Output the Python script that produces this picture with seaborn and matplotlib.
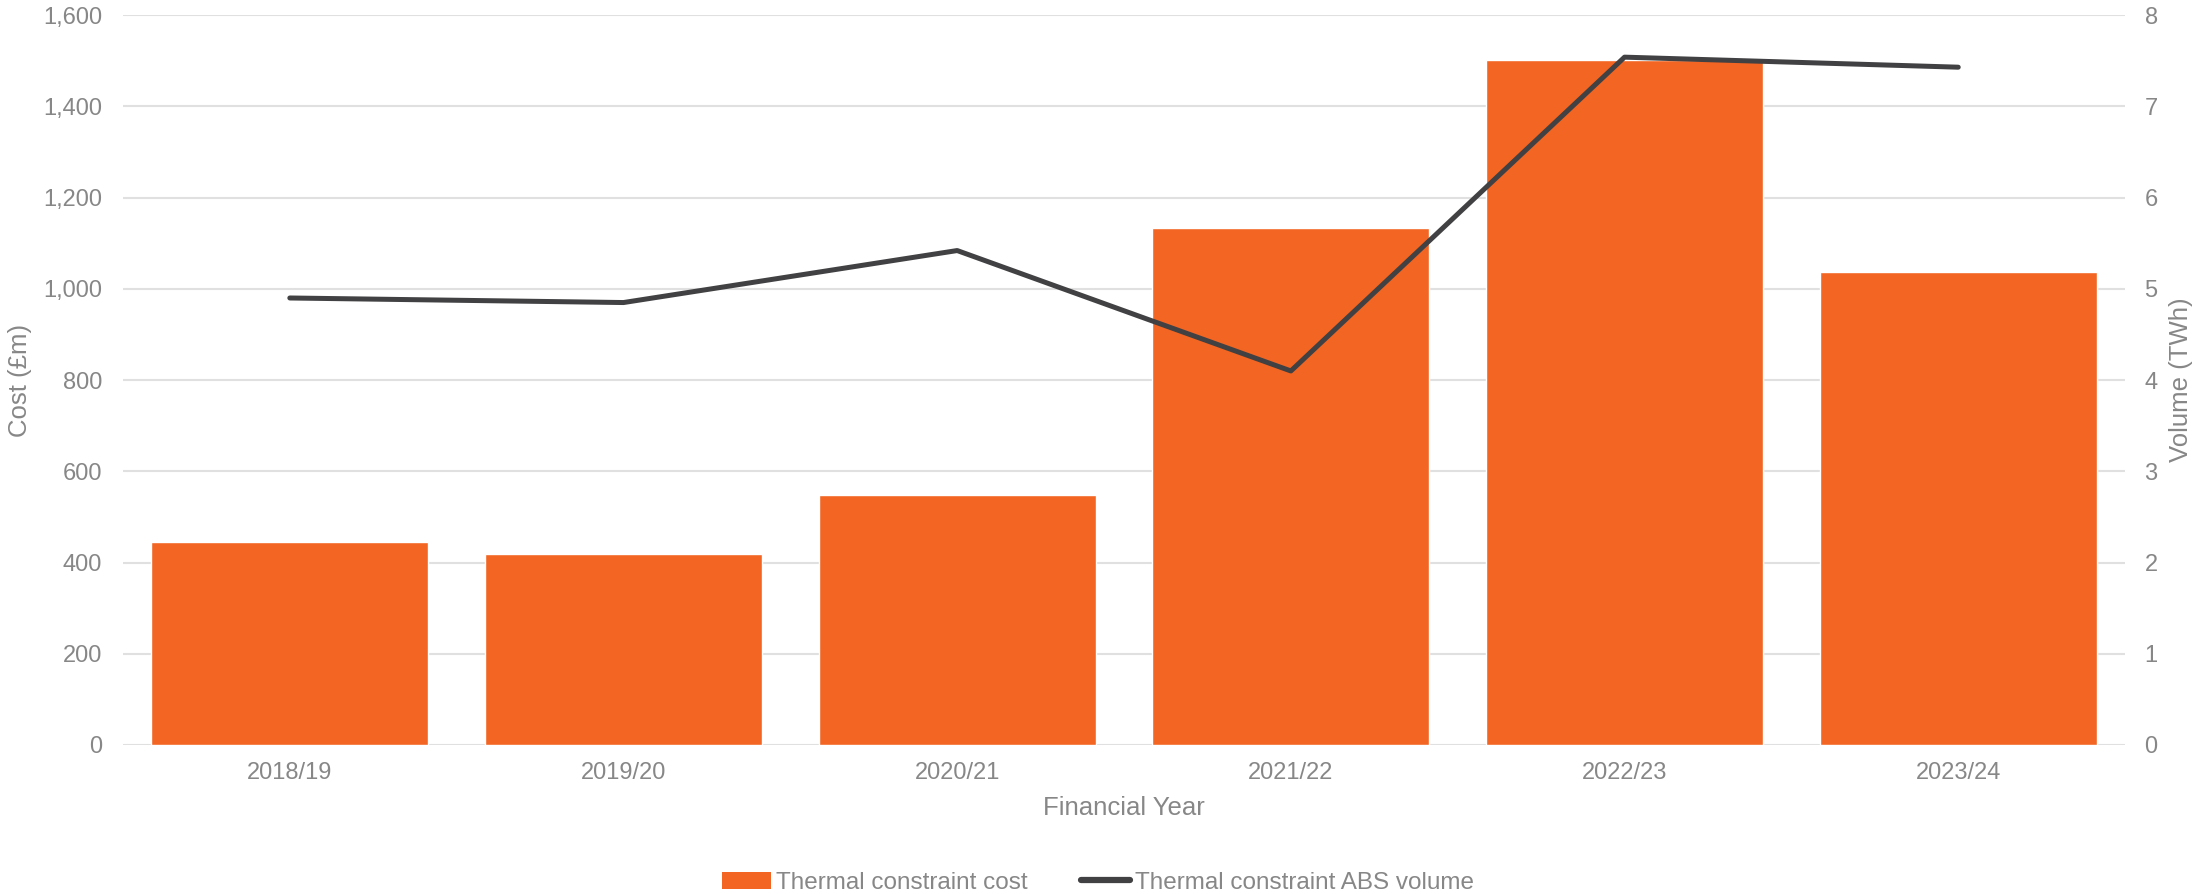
import numpy as np
import pandas as pd
import matplotlib
matplotlib.use("Agg")
import matplotlib.pyplot as plt
from matplotlib.patches import Patch
from matplotlib.lines import Line2D
from matplotlib.ticker import FuncFormatter
import seaborn as sns

# data
years = ["2018/19", "2019/20", "2020/21", "2021/22", "2022/23", "2023/24"]
cost_gbp_m = [445, 418, 547, 1133, 1502, 1038]
volume_twh = [4.90, 4.85, 5.42, 4.10, 7.54, 7.43]

ORANGE = "#F26522"
LINE = "#414042"
TEXT = "#878787"
GRID = "#E0E0E0"

sns.set_theme(style="white")
plt.rcParams["font.family"] = ["Liberation Sans", "DejaVu Sans"]

df = pd.DataFrame({"year": years, "cost": cost_gbp_m, "volume": volume_twh})

fig, ax = plt.subplots(figsize=(21.96, 8.94), dpi=100)
fig.subplots_adjust(left=0.056, right=0.9677, top=0.983, bottom=0.1667)

sns.barplot(data=df, x="year", y="cost", color=ORANGE, saturation=1,
            width=0.83, ax=ax, zorder=2)

ax2 = ax.twinx()
sns.lineplot(data=df, x="year", y="volume", color=LINE, linewidth=3.6,
             sort=False, ax=ax2, zorder=3)

# left axis
ax.set_ylim(0, 1600)
ax.set_yticks(np.arange(0, 1601, 200))
ax.yaxis.set_major_formatter(FuncFormatter(lambda v, p: f"{int(v):,}"))
ax.grid(axis="y", color=GRID, linewidth=1.5, zorder=0)
ax.set_axisbelow(True)
ax.set_xlim(-0.5, len(years) - 0.5)

# right axis
ax2.set_ylim(0, 8)
ax2.set_yticks(np.arange(0, 9, 1))
ax2.grid(False)

for a in (ax, ax2):
    for s in a.spines.values():
        s.set_visible(False)
    a.tick_params(length=0, colors=TEXT, labelsize=17)

ax.tick_params(axis="x", pad=12)
ax.tick_params(axis="y", pad=15)
ax2.tick_params(axis="y", pad=14)

ax.set_xlabel("Financial Year", color=TEXT, fontsize=18.5, labelpad=9)
ax.set_ylabel("Cost (£m)", color=TEXT, fontsize=18.5, labelpad=8)
ax2.set_ylabel("Volume (TWh)", color=TEXT, fontsize=18.5, labelpad=8)

handles = [
    Patch(facecolor=ORANGE, edgecolor="none", label="Thermal constraint cost"),
    Line2D([0], [0], color=LINE, linewidth=4.5, solid_capstyle="round",
           label="Thermal constraint ABS volume"),
]
leg = fig.legend(handles=handles, loc="lower center", ncol=2, frameon=False,
                 bbox_to_anchor=(0.5, -0.024), fontsize=17.5,
                 handlelength=2.0, handletextpad=0.2, columnspacing=2.2)
for t in leg.get_texts():
    t.set_color(TEXT)

fig.savefig("out.png", dpi=100)
